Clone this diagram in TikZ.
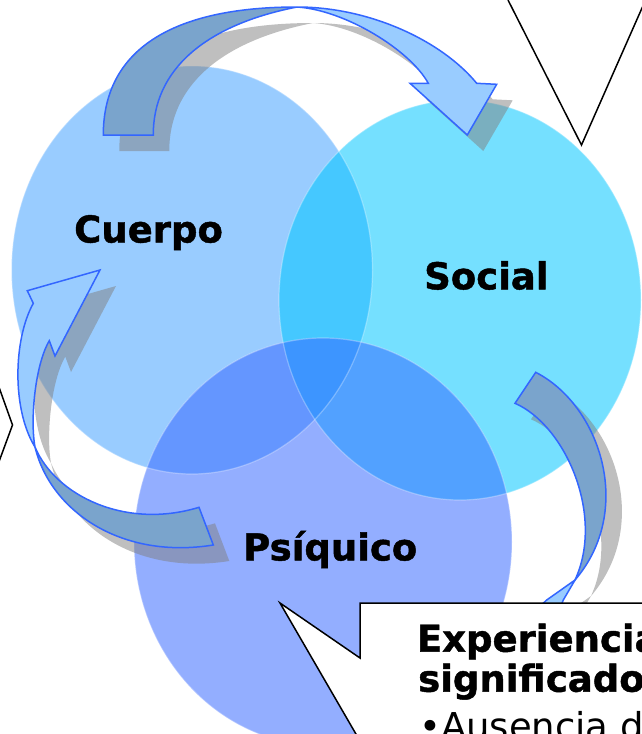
\documentclass[tikz,border=0pt]{standalone}
\usepackage{fontspec}
\setmainfont{DejaVu Sans}
\newfontfamily\heavyfont{DejaVu Sans Bold}[FakeBold=1.2]
\definecolor{cC}{HTML}{99CCFF}
\definecolor{cS}{HTML}{75E0FF}
\definecolor{cP}{HTML}{93AEFF}
\definecolor{cCS}{HTML}{45C8FF}
\definecolor{cCP}{HTML}{6496FF}
\definecolor{cSP}{HTML}{52A1FF}
\definecolor{cCSP}{HTML}{3D95FF}
\definecolor{arrowblue}{HTML}{3366FF}
\definecolor{arrowdark}{HTML}{7AA4CC}
\definecolor{arrowlight}{HTML}{99CCFF}
\tikzset{
  arrowline/.style={draw=arrowblue, line width=1.5pt, line join=miter},
  darkpart/.style={arrowline, fill=arrowdark},
  lightpart/.style={arrowline, fill=arrowlight},
  shadowfill/.style={fill=black!50, fill opacity=0.5},
  rim/.style={draw=white, draw opacity=0.3, line width=1.2pt},
  lbl/.style={font=\heavyfont\fontsize{37}{40}\selectfont, anchor=base west, inner sep=0pt, text=black},
  boxtxt/.style={font=\heavyfont\fontsize{37}{40}\selectfont, anchor=base west, inner sep=0pt, text=black},
  boxreg/.style={font=\fontsize{37}{40}\selectfont, anchor=base west, inner sep=0pt, text=black},
  calloutline/.style={draw=black, line width=1.5pt, line join=miter, fill=white},
  pointerline/.style={draw=black, line width=1.5pt, line join=miter}
}
\def\CuerpoPath{(192,270) ellipse [x radius=180.5, y radius=204]}
\def\SocialPath{(460,300) ellipse [x radius=181, y radius=200]}
\def\PsiquicoPath{(323,542) ellipse [x radius=189, y radius=204]}
\def\TopDark{(103.3,135) .. controls (103.3,50) and (172,7) .. (297,7) .. controls (205,25) and (153,70) .. (153.3,135) -- cycle}
\def\TopLight{(297,7) .. controls (370,7) and (442,41) .. (476.7,83.3) -- (496.7,84.3) -- (467.3,135) -- (410,83.3) -- (428.3,83.3) .. controls (410,50) and (345,10) .. (297,7) -- cycle}
\def\LeftLight{(35,447) .. controls (12,410) and (13,340) .. (33.3,303.3) -- (27.3,290.7) -- (100,270) -- (55,356) -- (49.3,340.7) .. controls (35,365) and (30,420) .. (35,447) -- cycle}
\def\LeftDark{(35,447) .. controls (50,510) and (120,560) .. (213.3,545) -- (199,507.3) .. controls (125,530) and (55,495) .. (35,447) -- cycle}
\def\RightDark{(535.7,372.3) .. controls (600,405) and (635,510) .. (575,580) .. controls (605,515) and (565,425) .. (515,403.3) -- cycle}
\def\RightLight{(575,580) -- (563.3,600) -- (553,625) -- (520,625) -- (546.7,600) -- cycle}
\begin{document}
\begin{tikzpicture}[x=1pt,y=-1pt]
\useasboundingbox (0,0) rectangle (642,734);
\fill[white] (0,0) rectangle (642,734);
% circles
\fill[cC] \CuerpoPath;
\fill[cS] \SocialPath;
\fill[cP] \PsiquicoPath;
\begin{scope}
  \clip \CuerpoPath;
  \fill[cCS] \SocialPath;
  \fill[cCP] \PsiquicoPath;
\end{scope}
\begin{scope}
  \clip \SocialPath;
  \fill[cSP] \PsiquicoPath;
\end{scope}
\begin{scope}
  \clip \CuerpoPath;
  \clip \SocialPath;
  \fill[cCSP] \PsiquicoPath;
\end{scope}
\path[rim] \CuerpoPath;
\path[rim] \SocialPath;
\path[rim] \PsiquicoPath;
% shadows
\begin{scope}[shift={(16,16)}]
  \path[shadowfill] \TopDark \TopLight;
  \path[shadowfill] \LeftDark \LeftLight;
  \path[shadowfill] \RightDark \RightLight;
\end{scope}
% arrows
\path[darkpart] \TopDark;
\path[lightpart] \TopLight;
\path[darkpart] \LeftDark;
\path[lightpart] \LeftLight;
\path[darkpart] \RightDark;
\path[lightpart] \RightLight;
% labels
\node[lbl] (cuerpo) at (74,242.5) {Cuerpo};
\node[lbl] (social) at (424,289.3) {Social};
\node[lbl] (psiquico) at (243,560.4) {Psíquico};
% callouts
\path[calloutline] (700,603) -- (360,603) -- (360,658) -- (280,603) -- (360,741) -- (360,800) -- (700,800);
\path[pointerline] (508,0) -- (581.5,145) -- (642,8) -- (660,-30);
\path[pointerline] (-10,362) -- (12.5,425) -- (-10,486);
\node[boxtxt] (exp) at (416.7,651.7) {Experiencia};
\node[boxtxt] (sig) at (418,691.7) {significado};
\node[boxreg] (aus) at (419,739) {•Ausencia de};
\end{tikzpicture}
\end{document}
